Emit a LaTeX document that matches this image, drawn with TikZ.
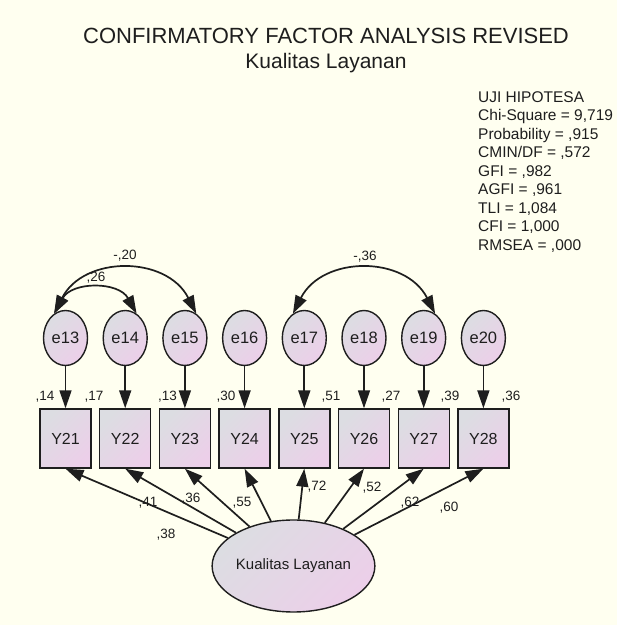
\documentclass[tikz,border=0pt]{standalone}
\usepackage{fontspec}
\setmainfont{Liberation Sans}
\usetikzlibrary{arrows.meta,shapes.geometric}
\definecolor{paper}{HTML}{FFFFF0}
\definecolor{shadeA}{HTML}{DCDDE2}
\definecolor{shadeB}{HTML}{ECCFE9}
\definecolor{ink}{HTML}{1E1E1E}
\begin{document}
\begin{tikzpicture}[x=1pt,y=1pt,
  every node/.style={text=ink},
  latent/.style={ellipse, draw=ink, line width=1.4pt, inner sep=0pt,
    left color=shadeA, right color=shadeB, shading angle=45,
    font=\fontsize{16.5}{19}\selectfont},
  errvar/.style={latent, minimum width=44pt, minimum height=55pt},
  factor/.style={latent, minimum width=137pt, minimum height=92pt,
    font=\fontsize{15}{18}\selectfont},
  observed/.style={rectangle, draw=ink, line width=1.4pt, inner sep=0pt,
    minimum width=51pt, minimum height=59pt,
    left color=shadeA, right color=shadeB, shading angle=45,
    font=\fontsize{16}{19}\selectfont},
  regarrow/.style={draw=ink, line width=1.7pt, -{Triangle[length=18pt,width=12pt]}},
  covarrow/.style={draw=ink, line width=1.7pt,
    {Triangle[length=18pt,width=12pt]}-{Triangle[length=18pt,width=12pt]}},
  est/.style={font=\fontsize{13.5}{16}\selectfont, inner sep=0pt}
]
\useasboundingbox (0,0) rectangle (617,625);
\fill[paper] (0,0) rectangle (617,625);

% headings
\node[font=\fontsize{22}{26}\selectfont] (title) at (326,589) {CONFIRMATORY FACTOR ANALYSIS REVISED};
\node[font=\fontsize{21}{26}\selectfont] (subtitle) at (326,562) {Kualitas Layanan};

% fit indices
\node[anchor=north west, align=left, inner sep=0pt,
      font=\fontsize{15.5}{18.5}\selectfont] (fit) at (478,534)
  {UJI HIPOTESA\\Chi-Square = 9,719\\Probability = ,915\\CMIN/DF = ,572\\GFI = ,982\\AGFI = ,961\\TLI = 1,084\\CFI = 1,000\\RMSEA = ,000};

% error terms
\node[errvar] (e13) at (65.5,287) {e13};
\node[errvar] (e14) at (125.2,287) {e14};
\node[errvar] (e15) at (184.9,287) {e15};
\node[errvar] (e16) at (244.6,287) {e16};
\node[errvar] (e17) at (304.3,287) {e17};
\node[errvar] (e18) at (364.0,287) {e18};
\node[errvar] (e19) at (423.7,287) {e19};
\node[errvar] (e20) at (483.4,287) {e20};

% indicators
\node[observed] (Y21) at (65.5,186.5) {Y21};
\node[observed] (Y22) at (125.2,186.5) {Y22};
\node[observed] (Y23) at (184.9,186.5) {Y23};
\node[observed] (Y24) at (244.6,186.5) {Y24};
\node[observed] (Y25) at (304.3,186.5) {Y25};
\node[observed] (Y26) at (364.0,186.5) {Y26};
\node[observed] (Y27) at (423.7,186.5) {Y27};
\node[observed] (Y28) at (483.4,186.5) {Y28};

% latent factor
\node[factor] (K) at (293.5,59) {Kualitas Layanan};

% error paths
\foreach \e/\y in {e13/Y21,e14/Y22,e15/Y23,e16/Y24,e17/Y25,e18/Y26,e19/Y27,e20/Y28}
  \draw[regarrow] (\e) -- (\y);

% loadings
\foreach \y in {Y21,Y22,Y23,Y24,Y25,Y26,Y27,Y28}
  \draw[regarrow] (K) -- (\y.south);

% covariances
\draw[covarrow] (e13.115) to[bend left=61, looseness=1.15] (e14.65);
\draw[covarrow] (e13.115) to[bend left=63, looseness=1.18] (e15.65);
\draw[covarrow] (e17.115) to[bend left=63, looseness=1.18] (e19.65);

% squared multiple correlations
\node[est] (r21) at (45,228) {,14};
\node[est] (r22) at (94,228) {,17};
\node[est] (r23) at (167.5,228) {,13};
\node[est] (r24) at (226,228) {,30};
\node[est] (r25) at (331,228) {,51};
\node[est] (r26) at (391,228) {,27};
\node[est] (r27) at (450,228) {,39};
\node[est] (r28) at (511,228) {,36};

% standardized loadings
\node[est] (l21) at (166,90) {,38};
\node[est] (l22) at (148,122) {,41};
\node[est] (l23) at (191,126) {,36};
\node[est] (l24) at (242,122) {,55};
\node[est] (l25) at (317,138) {,72};
\node[est] (l26) at (372,137) {,52};
\node[est] (l27) at (410,122) {,62};
\node[est] (l28) at (449,117) {,60};

% correlations between errors
\node[est] (c1314) at (96,347) {,26};
\node[est] (c1315) at (125,369) {-,20};
\node[est] (c1719) at (365,368) {-,36};
\end{tikzpicture}
\end{document}
